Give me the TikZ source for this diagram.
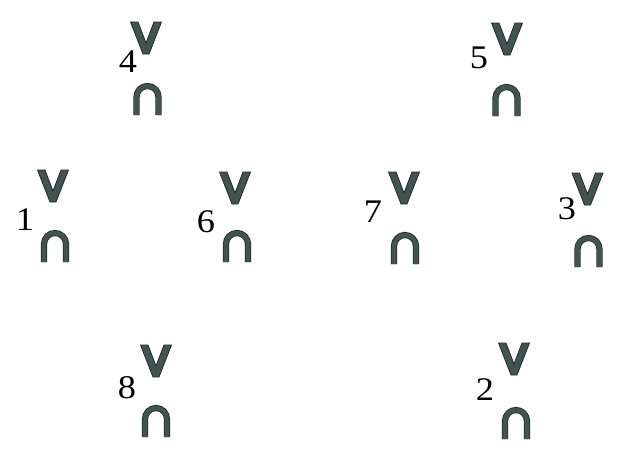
\documentclass[tikz,border=0pt]{standalone}
\usepackage{fontspec}
\setmainfont{Liberation Serif}
\definecolor{symfill}{RGB}{66,84,79}
\definecolor{symline}{RGB}{32,42,40}
\begin{document}
\begin{tikzpicture}[x=1pt,y=-1pt,
  numlabel/.style={inner sep=0pt,font=\fontsize{33}{33}\selectfont,xscale=1.1},
  vsym/.pic={\filldraw[fill=symfill,draw=symline,line width=0.8pt,line join=miter]
     (-15.5,0) -- (-8,0) -- (0,21) -- (8,0) -- (15.5,0) -- (3,32) -- (-3,32) -- cycle;},
  capsym/.pic={\draw[draw=symline,double=symfill,double distance=4.6pt,line width=0.8pt]
     (-11,32) -- (-11,14) arc[start angle=180,end angle=360,radius=11] -- (11,32);}]
\useasboundingbox (0,0) rectangle (621,450);
% group 4
\node[numlabel] (n4) at (128,62) {4};
\pic at (146,22) {vsym};
\pic at (147.5,83) {capsym};
% group 5
\node[numlabel] (n5) at (479,58) {5};
\pic at (507,23) {vsym};
\pic at (506.5,84) {capsym};
% group 1
\node[numlabel] (n1) at (25,220) {1};
\pic at (53,170) {vsym};
\pic at (55,230) {capsym};
% group 6
\node[numlabel] (n6) at (206,222) {6};
\pic at (235,172) {vsym};
\pic at (237,230) {capsym};
% group 7
\node[numlabel] (n7) at (373,212) {7};
\pic at (404,172) {vsym};
\pic at (405,232) {capsym};
% group 3
\node[numlabel] (n3) at (567,209) {3};
\pic at (587.5,173) {vsym};
\pic at (588.5,235) {capsym};
% group 8
\node[numlabel] (n8) at (127,388) {8};
\pic at (156,345) {vsym};
\pic at (156,405) {capsym};
% group 2
\node[numlabel] (n2) at (485,390) {2};
\pic at (514,343) {vsym};
\pic at (516,407) {capsym};
\end{tikzpicture}
\end{document}
